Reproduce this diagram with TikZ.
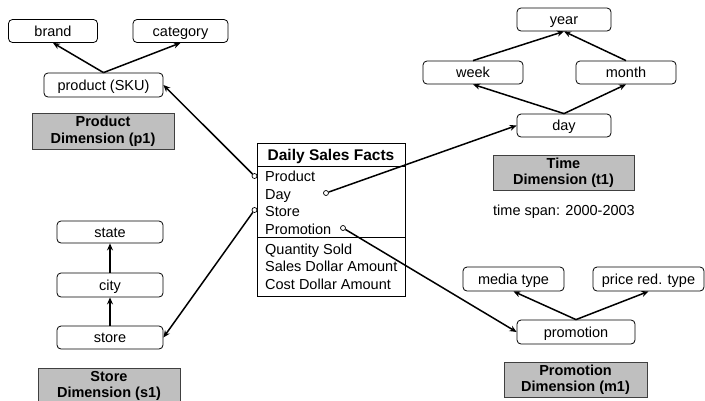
\documentclass[tikz,border=0pt]{standalone}
\usepackage{fontspec}
\setmainfont{Liberation Sans}
\usetikzlibrary{arrows.meta}
\begin{document}
\begin{tikzpicture}[x=1pt,y=-1pt,
  font=\fontsize{14.5}{17.5}\selectfont,
  lvl/.style={draw, line width=0.8pt, rounded corners=4pt, minimum height=23pt, inner sep=0pt, text height=10pt, text depth=0pt},
  dimbox/.style={draw=black!75, line width=0.8pt, fill=black!25, minimum height=36pt, inner sep=0pt, align=center, font=\fontsize{14.5}{16.5}\selectfont\bfseries},
  arr/.style={line width=1.5pt, -{Stealth[length=7pt,width=6pt]}},
  port/.style={circle, draw, line width=0.7pt, fill=white, inner sep=0pt, minimum size=5pt},
  row/.style={anchor=west, inner sep=0pt, text height=10pt, text depth=0pt}]
\clip (0,0) rectangle (705,400);
\fill[white] (0,0) rectangle (705,400);
% Product dimension
\node[lvl, minimum width=89pt] (brand) at (53,31) {brand};
\node[lvl, minimum width=95pt] (category) at (180.5,31) {category};
\node[lvl, minimum width=119pt, minimum height=24pt] (sku) at (103.5,85) {product (SKU)};
\node[dimbox, minimum width=142pt] (pdim) at (103,131) {Product\\Dimension (p1)};
\draw[arr] (sku.north) -- (brand.south);
\draw[arr] (sku.north) -- (category.south);
% Time dimension
\node[lvl, minimum width=94pt] (year) at (564,19.5) {year};
\node[lvl, minimum width=100pt] (week) at (473,72.5) {week};
\node[lvl, minimum width=100pt] (month) at (626,72.5) {month};
\node[lvl, minimum width=94pt] (day) at (564,125.5) {day};
\node[dimbox, minimum width=141pt, minimum height=35pt] (tdim) at (563.5,172.5) {Time\\Dimension (t1)};
\node[inner sep=0pt, text height=10pt, text depth=0pt] (tspan) at (564,210) {time span: 2000-2003};
\draw[arr] (week.north) -- (year.south);
\draw[arr] (month.north) -- (year.south);
\draw[arr] (day.north) -- (week.south);
\draw[arr] (day.north) -- (month.south);
% Store dimension
\node[lvl, minimum width=106pt, minimum height=22pt] (state) at (110,232) {state};
\node[lvl, minimum width=106pt, minimum height=24pt] (city) at (110,285) {city};
\node[lvl, minimum width=106pt] (store) at (110,337.5) {store};
\node[dimbox, minimum width=142pt] (sdim) at (109,386) {Store\\Dimension (s1)};
\draw[arr] (city.north) -- (state.south);
\draw[arr] (store.north) -- (city.south);
% Promotion dimension
\node[lvl, minimum width=101pt, minimum height=24pt] (media) at (513.5,279) {media type};
\node[lvl, minimum width=111pt, minimum height=24pt] (price) at (648.5,279) {price red. type};
\node[lvl, minimum width=118pt, minimum height=24pt] (promo) at (576,332) {promotion};
\node[dimbox, minimum width=143pt, minimum height=35pt] (mdim) at (575.5,379.5) {Promotion\\Dimension (m1)};
\draw[arr] (promo.north) -- (media.south);
\draw[arr] (promo.north) -- (price.south);
% Facts table
\node[draw, line width=0.8pt, minimum width=148pt, minimum height=153pt, inner sep=0pt] (facts) at (331,219.5) {};
\draw[line width=0.8pt] (257,166) coordinate (h1) -- (405,166) coordinate (h2);
\draw[line width=0.8pt] (257,237) coordinate (d1) -- (405,237) coordinate (d2);
\node[inner sep=0pt, text height=11pt, text depth=0pt, font=\fontsize{15.5}{18}\selectfont\bfseries] (head) at (331,155) {Daily Sales Facts};
\node[row] (rp) at (265,176.5) {Product};
\node[row] (rd) at (265,194) {Day};
\node[row] (rs) at (265,211.5) {Store};
\node[row] (rpr) at (265,229) {Promotion};
\node[row] (rq) at (265,249) {Quantity Sold};
\node[row] (rsd) at (265,266.5) {Sales Dollar Amount};
\node[row] (rc) at (265,284) {Cost Dollar Amount};
% ports
\node[port] (pp) at (254.5,176) {};
\node[port] (ps) at (254.5,210) {};
\node[port] (pd) at (326,193) {};
\node[port] (ppr) at (343,228) {};
\draw[arr] (pp) -- (sku.east);
\draw[arr] (ps) -- (store.east);
\draw[arr] (pd) -- (day.west);
\draw[arr] (ppr) -- (promo.west);
\end{tikzpicture}
\end{document}
